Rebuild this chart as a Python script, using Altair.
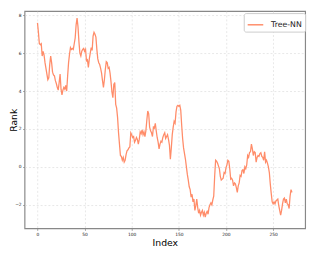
import altair as alt
import pandas as pd

series_name = "Tree-NN"
rank_values = [
    7.6, 7.1, 6.5, 6.45, 6.5, 5.85, 6.1, 5.9, 5.5, 5.2,
    4.9, 4.6, 4.7, 5.4, 5.85, 5.5, 5.0, 4.85, 4.8, 4.55,
    4.4, 4.2, 4.05, 4.45, 4.9, 4.1, 3.8, 4.05, 4.2, 4.1,
    4.3, 4.0, 4.8, 5.5, 5.95, 6.3, 6.2, 6.25, 6.2, 6.5,
    6.8, 7.5, 7.85, 7.4, 6.6, 6.0, 5.85, 6.1, 6.2, 6.25,
    6.1, 6.2, 5.6, 5.65, 5.25, 5.7, 6.0, 6.3, 6.15, 6.9,
    7.1, 7.0, 6.85, 6.2, 5.7, 5.5, 5.4, 5.2, 4.95, 4.55,
    4.2, 4.6, 5.15, 5.55, 5.5, 5.2, 5.25, 4.95, 4.5, 3.95,
    3.65, 4.35, 4.45, 3.3, 3.1, 2.6, 1.8, 1.2, 0.6, 0.55,
    0.35, 0.5, 0.25, 0.35, 0.65, 0.85, 0.9, 1.0, 1.05, 1.8,
    1.7, 1.55, 1.6, 1.3, 1.4, 1.55, 1.45, 1.2, 1.45, 1.85,
    1.75, 1.95, 1.7, 1.85, 1.6, 1.9, 2.45, 2.95, 2.8, 2.1,
    1.9, 1.8, 1.6, 2.1, 2.05, 2.3, 1.9, 1.55, 1.3, 0.95,
    1.2, 1.35, 1.3, 1.55, 1.7, 1.8, 1.5, 1.6, 1.7, 1.45,
    1.15, 0.4, 1.0, 1.7, 2.1, 2.4, 2.3, 2.9, 3.2, 3.25,
    3.2, 3.25, 3.0, 2.2, 1.5, 1.0, 0.7, 0.4, 0.0, -0.4,
    -0.7, -1.05, -1.2, -1.6, -1.45, -1.85, -1.7, -2.3, -2.05, -1.7,
    -2.15, -2.45, -2.3, -2.55, -2.4, -2.3, -2.55, -2.4, -2.65, -2.45,
    -2.35, -2.5, -2.15, -2.0, -1.9, -2.0, -1.75, -1.55, -0.5, 0.35,
    0.3, 0.2, 0.05, -0.1, -0.5, -0.7, -0.65, -0.6, -0.3, -0.35,
    -0.05, 0.1, 0.35, 0.3, -0.1, -0.65, -0.6, -0.7, -1.0, -0.85,
    -0.9, -1.1, -1.35, -1.0, -0.85, -0.45, -0.5, -0.2, -0.15, -0.35,
    0.0, -0.1, 0.1, 0.6, 0.5, 0.75, 0.8, 1.2, 0.95, 0.6,
    0.8, 0.75, 0.25, 0.5, 0.6, 0.55, 0.7, 0.75, 0.55, 0.5,
    0.35, 0.8, 0.25, 0.35, 0.2, 0.0, -0.3, -0.9, -1.4, -1.85,
    -1.95, -1.85, -1.95, -1.8, -1.75, -1.7, -2.05, -2.3, -2.55, -2.3,
    -1.95, -1.7, -1.65, -1.9, -1.7, -1.95, -2.0, -2.2, -1.55, -1.2,
    -1.35,
]
index_values = list(range(len(rank_values)))
x_ticks = [0, 50, 100, 150, 200, 250]
y_ticks = [-2, 0, 2, 4, 6, 8]

df = pd.DataFrame({"Index": index_values, "Rank": rank_values, "series": series_name})

chart = alt.Chart(df).mark_line(strokeWidth=1.3).encode(
    x=alt.X(
        "Index:Q",
        scale=alt.Scale(domain=[-13.7, 284], nice=False, zero=False),
        axis=alt.Axis(values=x_ticks, title="Index", titleY=18, titleBaseline="alphabetic",
                      labelPadding=1.5),
    ),
    y=alt.Y(
        "Rank:Q",
        scale=alt.Scale(domain=[-3.25, 8.22], nice=False, zero=False),
        axis=alt.Axis(values=y_ticks, title="Rank", titleX=-8.5, titleY=111.5,
                      titleAngle=270, titleBaseline="alphabetic", titleAlign="center",
                      labelPadding=1.5),
    ),
    color=alt.Color(
        "series:N",
        scale=alt.Scale(domain=[series_name], range=["#ff8c69"]),
        legend=alt.Legend(
            title=None, orient="none", legendX=225, legendY=2,
            symbolType="stroke", symbolSize=256, symbolStrokeWidth=1.5,
            labelFontSize=8, labelOffset=7, labelColor="#222",
            padding=3, strokeColor="#cccccc", fillColor="white", cornerRadius=2,
        ),
    ),
).properties(
    width=288, height=223,
    padding={"left": 17, "top": 0, "right": 6, "bottom": 22},
    autosize=alt.AutoSizeParams(type="none"),
).configure(
    font="DejaVu Sans", background="white",
).configure_view(
    stroke="#888888", strokeWidth=1.2,
).configure_axis(
    domain=False, grid=True, gridColor="#dddddd", gridDash=[2, 2], gridWidth=0.7,
    tickSize=2, tickColor="#888888", tickWidth=0.8,
    labelFontSize=4.5, labelColor="#222222",
    titleFontSize=9.5, titleFontWeight="normal", titleColor="#000000",
)

chart.save("out.html", embed_options={"renderer": "svg", "actions": False})
